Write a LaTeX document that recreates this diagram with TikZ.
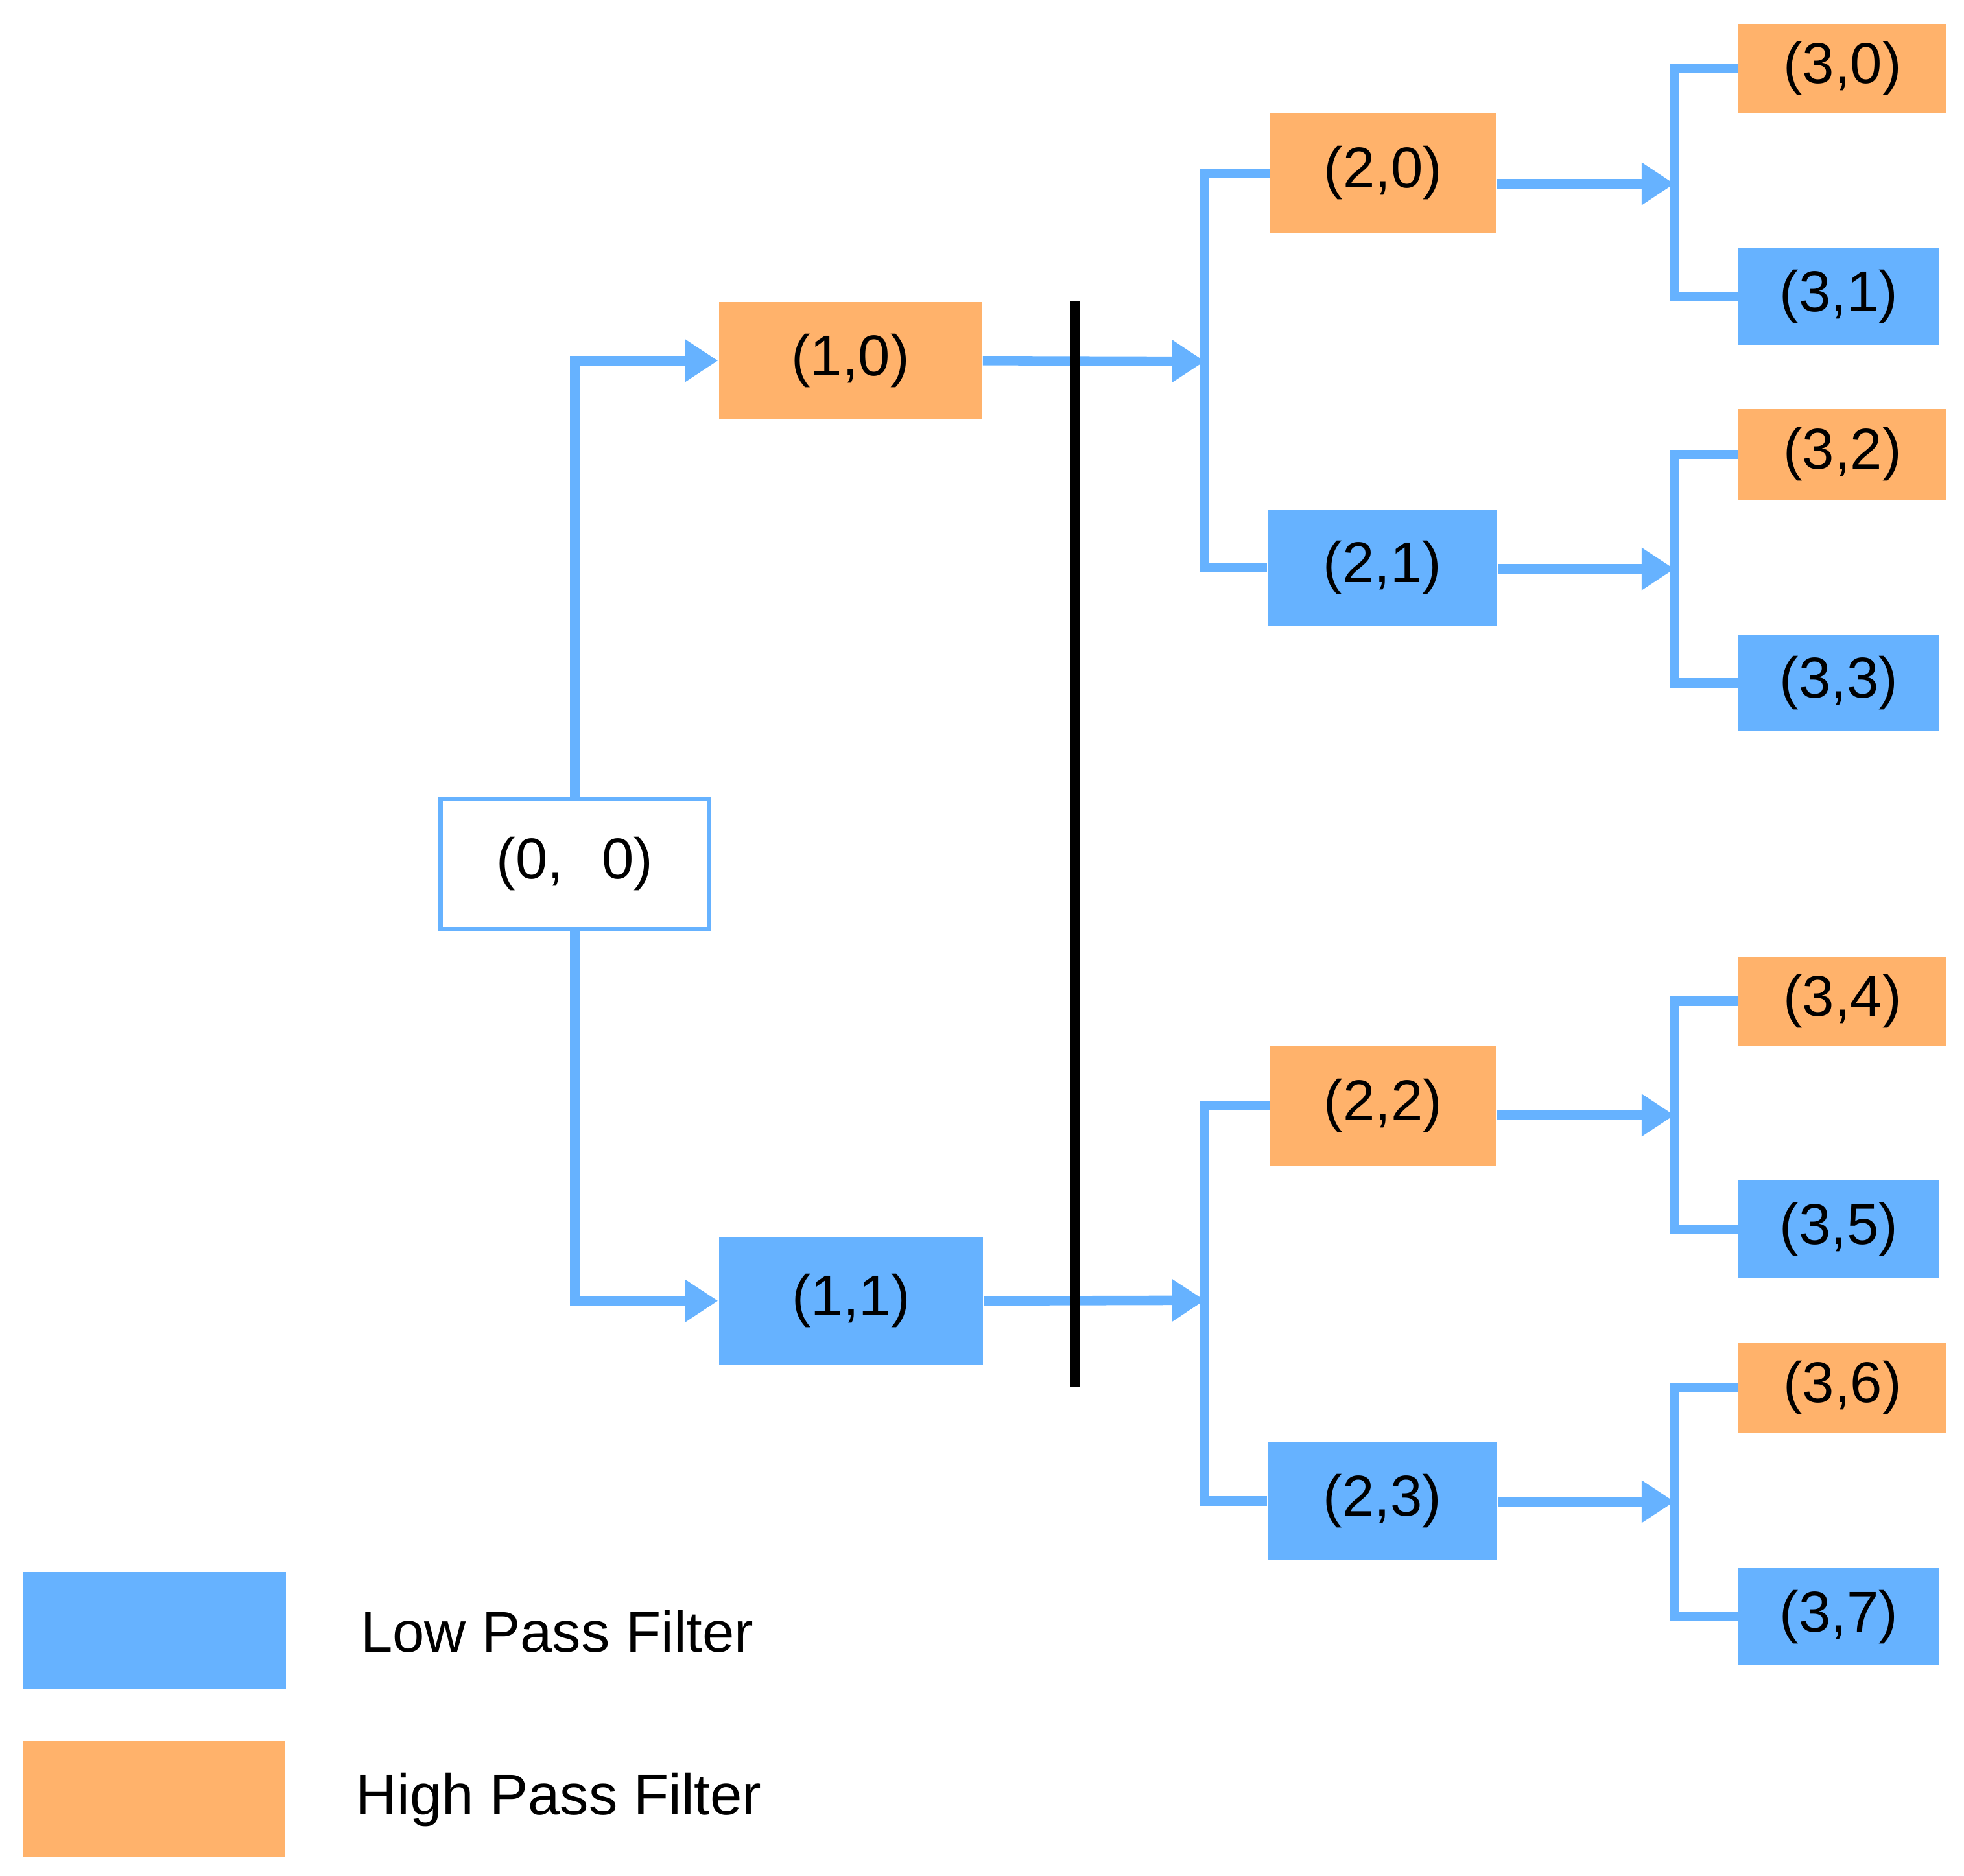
\documentclass[tikz,border=0pt]{standalone}
\usepackage{fontspec}
\setmainfont{Liberation Sans}
\usetikzlibrary{arrows.meta}
\definecolor{lpf}{HTML}{66B2FF}
\definecolor{hpf}{HTML}{FFB26B}
\begin{document}
\begin{tikzpicture}[x=0.1mm,y=-0.1mm,
  box/.style={draw=none,inner sep=0,font=\fontsize{13}{15}\selectfont},
  lo/.style={box,fill=lpf},
  hi/.style={box,fill=hpf},
  wire/.style={draw=lpf,line width=0.75mm},
  arr/.style={wire,-{Triangle[length=2.6mm,width=3.2mm]}}]
\useasboundingbox (0,0) rectangle (1560,1490);
\def\bx#1#2#3#4#5#6#7{\node[#2,minimum width=(#5-#4)*0.1mm,minimum height=(#7-#6)*0.1mm] (#1) at ({(#4+#5)/2},{(#6+#7)/2}) {#3};}
\node[box,fill=white,draw=lpf,line width=0.35mm,minimum width=21.3mm,minimum height=10.3mm] (n00) at (456.5,686.5) {(0,\,\,\,\,0)};
\bx{n10}{hi}{(1,0)}{571}{780}{240}{333}
\bx{n11}{lo}{(1,1)}{571}{781}{983}{1084}
\bx{n20}{hi}{(2,0)}{1009}{1188}{90}{185}
\bx{n21}{lo}{(2,1)}{1007}{1189}{405}{497}
\bx{n22}{hi}{(2,2)}{1009}{1188}{831}{926}
\bx{n23}{lo}{(2,3)}{1007}{1189}{1146}{1239}
\bx{n30}{hi}{(3,0)}{1381}{1546}{19}{90}
\bx{n31}{lo}{(3,1)}{1381}{1540}{197}{274}
\bx{n32}{hi}{(3,2)}{1381}{1546}{325}{397}
\bx{n33}{lo}{(3,3)}{1381}{1540}{504}{581}
\bx{n34}{hi}{(3,4)}{1381}{1546}{760}{831}
\bx{n35}{lo}{(3,5)}{1381}{1540}{938}{1015}
\bx{n36}{hi}{(3,6)}{1381}{1546}{1067}{1138}
\bx{n37}{lo}{(3,7)}{1381}{1540}{1246}{1323}
\bx{leglo}{lo}{}{18}{227}{1249}{1342}
\bx{leghi}{hi}{}{18}{226}{1383}{1475}
\node[anchor=west,font=\fontsize{13}{15}\selectfont] (tlo) at (274,1296) {Low Pass Filter};
\node[anchor=west,font=\fontsize{13}{15}\selectfont] (thi) at (270,1430) {High Pass Filter};
% level 0 -> 1
\draw[arr] (n00.north) |- (n10.west);
\draw[arr] (n00.south) |- (n11.west);
% level 1 -> 2
\coordinate (j1a) at (957,287);
\coordinate (j1b) at (957,1033);
\draw[arr] (n10.east) -- (j1a);
\draw[arr] (n11.east) -- (j1b);
\draw[wire] (n20.west) -| (957,287) |- (n21.west);
\draw[wire] (n22.west) -| (957,1033) |- (n23.west);
% level 2 -> 3
\foreach \s/\a/\b/\y in {n20/n30/n31/146, n21/n32/n33/452, n22/n34/n35/886, n23/n36/n37/1193}{
  \draw[arr] (\s.east |- 0,\y) -- (1330,\y);
  \draw[wire] (\a.west) -| (1330,\y) |- (\b.west);
}
% black bar
\coordinate (bt) at (854,239);
\coordinate (bb) at (854,1102);
\draw[line width=0.85mm,black] (bt) -- (bb);
\end{tikzpicture}
\end{document}
